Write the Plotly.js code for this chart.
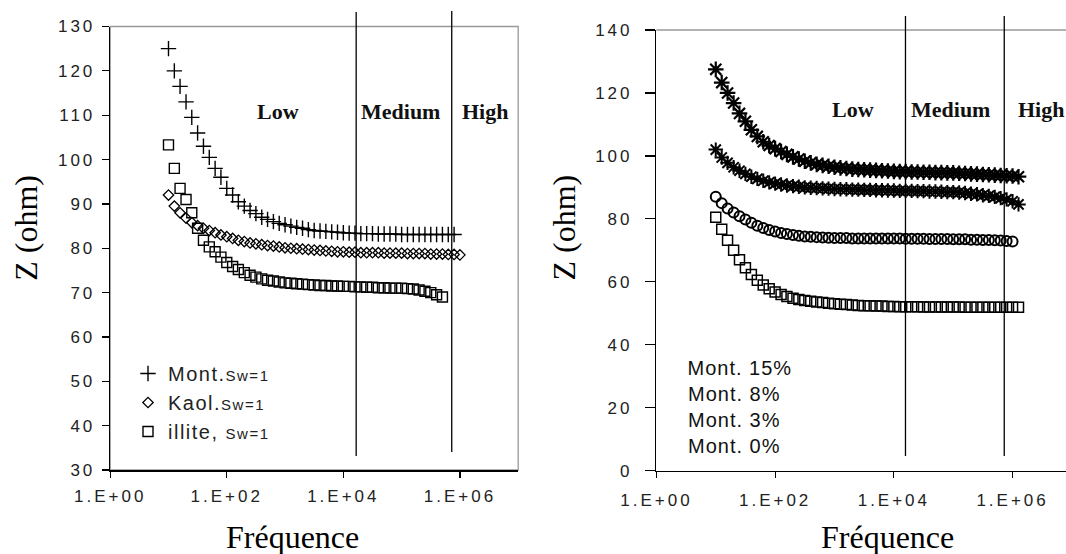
<!DOCTYPE html>
<html>
<head>
<meta charset="utf-8">
<script src="https://cdn.plot.ly/plotly-3.0.1.min.js"></script>
<style>
  html, body { margin: 0; padding: 0; background: #fff; overflow: hidden; }
  #chart { width: 1066px; height: 554px; }
  g[class$="tick"] text { letter-spacing: 3px; }
  .legendtext { letter-spacing: 1.5px; }
  g.annotation[data-index="10"] text, g.annotation[data-index="11"] text,
  g.annotation[data-index="12"] text, g.annotation[data-index="13"] text { letter-spacing: 1px; }
</style>
</head>
<body>
<div id="chart"></div>
<script>
// Frequency sweep (Hz), shared by all series
const freq = [10, 12.6, 15.8, 20, 25.1, 31.6, 39.8, 50.1, 63.1, 79.4,
  100, 126, 158, 200, 251, 316, 398, 501, 631, 794,
  1000, 1259, 1585, 1995, 2512, 3162, 3981, 5012, 6310, 7943,
  10000, 12589, 15849, 19953, 25119, 31623, 39811, 50119, 63096, 79433,
  100000, 125893, 158489, 199526, 251189, 316228, 398107, 501187, 630957, 794328,
  1000000, 1258925];

// Left chart: clays at Sw = 1
const montSw = [125, 120, 116.5, 113, 109.5, 106, 103, 100.5, 98, 96,
  93.5, 92, 90.5, 89.5, 88.5, 87.8, 87, 86.5, 86, 85.6,
  85.3, 85, 84.7, 84.5, 84.2, 84, 83.9, 83.8, 83.7, 83.6,
  83.5, 83.4, 83.4, 83.3, 83.3, 83.3, 83.2, 83.2, 83.2, 83.2,
  83.1, 83.1, 83.1, 83.1, 83.1, 83.1, 83.1, 83.1, 83.1, 83.1];
const kaolSw = [92, 89.5, 88, 86.8, 85.8, 85.1, 84.5, 84, 83.5, 83,
  82.6, 82.2, 81.8, 81.5, 81.2, 81, 80.8, 80.6, 80.5, 80.3,
  80.1, 80, 79.9, 79.8, 79.7, 79.6, 79.5, 79.4, 79.3, 79.2,
  79.2, 79.1, 79.1, 79.0, 79.0, 79.0, 79.0, 78.9, 78.9, 78.9,
  78.9, 78.8, 78.8, 78.8, 78.8, 78.7, 78.7, 78.7, 78.6, 78.6,
  78.5];
const illiteSw = [103.3, 98, 93.5, 91, 88, 84.5, 81.8, 80.3, 79.2, 78,
  76.8, 75.9, 75.2, 74.5, 73.9, 73.5, 73.1, 72.8, 72.6, 72.4,
  72.2, 72.1, 72.0, 71.9, 71.8, 71.7, 71.6, 71.6, 71.5, 71.5,
  71.4, 71.4, 71.3, 71.3, 71.2, 71.2, 71.1, 71.1, 71.0, 71.0,
  71.0, 70.9, 70.8, 70.6, 70.3, 70.0, 69.5, 69.0];

// Right chart: montmorillonite content
const mont15 = [127.5, 123.3, 120, 116.8, 113.5, 111, 108.3, 106.2, 104.5, 103.3,
  102.3, 101.4, 100.5, 99.7, 99, 98.3, 97.8, 97.3, 97, 96.7,
  96.4, 96.2, 96, 95.8, 95.7, 95.6, 95.5, 95.4, 95.3, 95.2,
  95.1, 95.0, 95.0, 94.9, 94.9, 94.8, 94.8, 94.7, 94.7, 94.6,
  94.6, 94.5, 94.4, 94.3, 94.2, 94.1, 94.0, 93.9, 93.8, 93.7,
  93.6, 93.4];
const mont8 = [102, 99.5, 97.8, 96.4, 95.3, 94.3, 93.4, 92.7, 92.1, 91.6,
  91.2, 90.9, 90.6, 90.4, 90.2, 90.0, 89.9, 89.8, 89.7, 89.6,
  89.5, 89.4, 89.4, 89.3, 89.3, 89.2, 89.2, 89.1, 89.1, 89.0,
  89.0, 88.9, 88.9, 88.9, 88.8, 88.8, 88.7, 88.7, 88.6, 88.5,
  88.5, 88.4, 88.2, 88.0, 87.8, 87.5, 87.3, 87.0, 86.6, 86.2,
  85.6, 84.6];
const mont3 = [87, 85, 83.3, 82, 80.8, 79.8, 78.8, 77.8, 77.1, 76.5,
  76, 75.5, 75.2, 74.9, 74.6, 74.4, 74.3, 74.2, 74.1, 74.0,
  73.9, 73.9, 73.9, 73.8, 73.8, 73.8, 73.8, 73.8, 73.8, 73.8,
  73.8, 73.8, 73.7, 73.7, 73.7, 73.7, 73.6, 73.6, 73.6, 73.6,
  73.5, 73.5, 73.5, 73.4, 73.4, 73.3, 73.3, 73.2, 73.1, 73.0,
  72.8];
const mont0 = [80.5, 76.7, 73.2, 70, 67, 64.5, 62.3, 60.5, 59, 57.8,
  56.8, 56, 55.3, 54.8, 54.4, 54.1, 53.8, 53.6, 53.4, 53.2,
  53.0, 52.9, 52.8, 52.6, 52.5, 52.4, 52.4, 52.3, 52.3, 52.2,
  52.2, 52.1, 52.1, 52.1, 52.1, 52.0, 52.0, 52.0, 52.0, 52.0,
  52.0, 52.0, 51.9, 51.9, 51.9, 51.9, 51.9, 51.9, 51.9, 51.9,
  51.9, 51.9];

// Labels
const leftNames = ['Mont.', 'Kaol.', 'illite, '];
const rightNames = ['Mont. 15%', 'Mont. 8%', 'Mont. 3%', 'Mont. 0%'];
const bandLabels = ['Low', 'Medium', 'High'];
const bandEdgesL = [16600, 724000];
const bandEdgesR = [15700, 724000];
const tickVals = [1, 100, 10000, 1000000];
const tickText = ['1.E+00', '1.E+02', '1.E+04', '1.E+06'];
const xTitle = 'Fréquence';
const yTitle = 'Z (ohm)';

const W = 1066, H = 554;
const px = v => v / W;
const py = v => 1 - v / H;

function sw(name) { return name + "<span style='font-size:15px'>Sw=1</span>"; }

const traces = [
  { x: freq.slice(0, montSw.length), y: montSw, name: sw(leftNames[0]), xaxis: 'x', yaxis: 'y', mode: 'markers',
    marker: { symbol: 'cross-thin-open', size: 11, color: '#000', line: { width: 1.4, color: '#000' } } },
  { x: freq.slice(0, kaolSw.length), y: kaolSw, name: sw(leftNames[1]), xaxis: 'x', yaxis: 'y', mode: 'markers',
    marker: { symbol: 'diamond-open', size: 8, color: '#000', line: { width: 1.3, color: '#000' } } },
  { x: freq.slice(0, illiteSw.length), y: illiteSw, name: sw(leftNames[2]), xaxis: 'x', yaxis: 'y', mode: 'markers',
    marker: { symbol: 'square-open', size: 10, color: '#000', line: { width: 1.4, color: '#000' } } },
  { x: freq.slice(0, mont15.length), y: mont15, name: rightNames[0], xaxis: 'x2', yaxis: 'y2', mode: 'markers', showlegend: false,
    marker: { symbol: 'asterisk-open', size: 13, color: '#000', line: { width: 2.2, color: '#000' } } },
  { x: freq.slice(0, mont8.length), y: mont8, name: rightNames[1], xaxis: 'x2', yaxis: 'y2', mode: 'markers', showlegend: false,
    marker: { symbol: 'asterisk-open', size: 12, color: '#000', line: { width: 2, color: '#000' } } },
  { x: freq.slice(0, mont3.length), y: mont3, name: rightNames[2], xaxis: 'x2', yaxis: 'y2', mode: 'markers', showlegend: false,
    marker: { symbol: 'circle-open', size: 10, color: '#000', line: { width: 2, color: '#000' } } },
  { x: freq.slice(0, mont0.length), y: mont0, name: rightNames[3], xaxis: 'x2', yaxis: 'y2', mode: 'markers', showlegend: false,
    marker: { symbol: 'square-open', size: 10, color: '#000', line: { width: 1.5, color: '#000' } } }
];

const tickFont = { family: 'Liberation Sans, Arial, sans-serif', size: 17, color: '#222' };
const axisCommon = {
  showline: true, linecolor: '#000', linewidth: 1.5, ticks: 'outside', tickcolor: '#000', tickwidth: 1.2,
  showgrid: false, zeroline: false, tickfont: tickFont, ticklabeloverflow: 'allow'
};

const bandFont = { family: 'Liberation Serif, Times New Roman, serif', size: 22, color: '#111' };
const titleFont = { family: 'Liberation Serif, Times New Roman, serif', size: 32, color: '#000' };

const annotations = [
  { xref: 'x', yref: 'y', x: 2.876, y: 110.9, text: '<b>' + bandLabels[0] + '</b>', showarrow: false, font: bandFont },
  { xref: 'x', yref: 'y', x: 4.98, y: 110.9, text: '<b>' + bandLabels[1] + '</b>', showarrow: false, font: bandFont },
  { xref: 'x', yref: 'y', x: 6.43, y: 110.9, text: '<b>' + bandLabels[2] + '</b>', showarrow: false, font: bandFont },
  { xref: 'x2', yref: 'y2', x: 3.32, y: 114.7, text: '<b>' + bandLabels[0] + '</b>', showarrow: false, font: bandFont },
  { xref: 'x2', yref: 'y2', x: 4.96, y: 114.7, text: '<b>' + bandLabels[1] + '</b>', showarrow: false, font: bandFont },
  { xref: 'x2', yref: 'y2', x: 6.05, y: 114.7, xanchor: 'left', text: '<b>' + bandLabels[2] + '</b>', showarrow: false, font: bandFont },
  { xref: 'paper', yref: 'paper', x: px(25.8), y: py(228), xanchor: 'center', yanchor: 'middle', text: yTitle, textangle: -90, showarrow: false, font: titleFont },
  { xref: 'paper', yref: 'paper', x: px(563.5), y: py(228), xanchor: 'center', yanchor: 'middle', text: yTitle, textangle: -90, showarrow: false, font: titleFont },
  { xref: 'paper', yref: 'paper', x: px(292.7), y: py(537), xanchor: 'center', yanchor: 'middle', text: xTitle, showarrow: false, font: titleFont },
  { xref: 'paper', yref: 'paper', x: px(887.2), y: py(537), xanchor: 'center', yanchor: 'middle', text: xTitle, showarrow: false, font: titleFont }
];
rightNames.forEach((n, i) => {
  annotations.push({ xref: 'paper', yref: 'paper', x: px(690.3), xanchor: 'left', yanchor: 'middle', y: py(367.5 + i * 26.1), text: n,
    showarrow: false, font: { family: 'Liberation Sans, Arial, sans-serif', size: 20, color: '#111' } });
});

const shapes = [
  { type: 'rect', xref: 'x domain', yref: 'y domain', x0: 0, x1: 1, y0: 0, y1: 1, line: { color: '#999', width: 1.3 }, layer: 'below' },
  { type: 'line', xref: 'x2 domain', yref: 'y2 domain', x0: 0, x1: 1, y0: 1, y1: 1, line: { color: '#999', width: 1.3 }, layer: 'below' },
  { type: 'line', xref: 'x', yref: 'paper', x0: bandEdgesL[0], x1: bandEdgesL[0], y0: py(456), y1: py(12), line: { color: '#000', width: 1.3 } },
  { type: 'line', xref: 'x', yref: 'paper', x0: bandEdgesL[1], x1: bandEdgesL[1], y0: py(452), y1: py(11), line: { color: '#000', width: 1.3 } },
  { type: 'line', xref: 'x2', yref: 'paper', x0: bandEdgesR[0], x1: bandEdgesR[0], y0: py(456), y1: py(16), line: { color: '#000', width: 1.3 } },
  { type: 'line', xref: 'x2', yref: 'paper', x0: bandEdgesR[1], x1: bandEdgesR[1], y0: py(456), y1: py(16), line: { color: '#000', width: 1.3 } }
];

const layout = {
  width: W, height: H,
  margin: { l: 0, r: 0, t: 0, b: 0 },
  paper_bgcolor: '#fff', plot_bgcolor: 'rgba(0,0,0,0)',
  showlegend: true,
  legend: { x: px(128), y: py(354), xanchor: 'left', yanchor: 'top', bgcolor: 'rgba(0,0,0,0)',
    font: { family: 'Liberation Sans, Arial, sans-serif', size: 20, color: '#222' }, itemwidth: 30, tracegroupgap: 0 },
  xaxis: Object.assign({}, axisCommon, { type: 'log', range: [0, 7], domain: [px(110.2), px(518.2)], anchor: 'y',
    tickmode: 'array', tickvals: tickVals, ticktext: tickText, ticklen: 6, ticklabelstandoff: 4 }),
  yaxis: Object.assign({}, axisCommon, { range: [30, 130], dtick: 10, domain: [py(470), py(26.5)], anchor: 'x',
    ticklen: 7, ticklabelstandoff: 3 }),
  xaxis2: Object.assign({}, axisCommon, { type: 'log', range: [0, 6.9], domain: [px(656.4), 1], anchor: 'y2',
    tickmode: 'array', tickvals: tickVals, ticktext: tickText, ticklen: 6, ticklabelstandoff: 7 }),
  yaxis2: Object.assign({}, axisCommon, { range: [0, 140], dtick: 20, domain: [py(470.7), py(30)], anchor: 'x2',
    ticklen: 10, ticklabelstandoff: 9 }),
  annotations: annotations,
  shapes: shapes
};

Plotly.newPlot('chart', traces, layout, { displayModeBar: false, staticPlot: true });
</script>
</body>
</html>
